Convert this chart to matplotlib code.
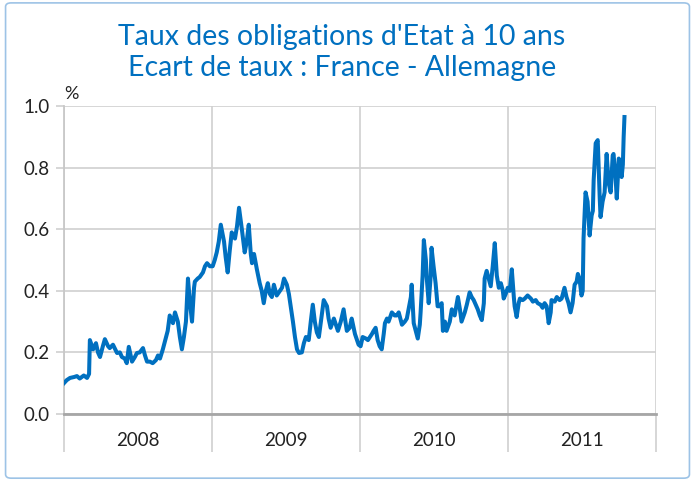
import numpy as np
import pandas as pd
import matplotlib
matplotlib.use("Agg")
from matplotlib import pyplot as plt
from matplotlib.patches import FancyBboxPatch

plt.rcParams['font.family'] = ['Lato', 'DejaVu Sans']

# jours depuis le 1er janvier 2008 et écart de taux (%)
jours = [0, 7, 15, 25, 32, 39, 49, 57, 62, 64, 72, 79, 84, 89, 96, 101, 109, 113, 121, 131,
         138, 143, 150, 155, 160, 168, 175, 180, 187, 195, 200, 205, 212, 219, 227, 232, 237, 244, 249, 256,
         261, 269, 274, 281, 286, 291, 296, 301, 306, 311, 316, 321, 323, 330, 335, 343, 348, 353, 360, 367,
         372, 377, 382, 387, 395, 399, 404, 409, 414, 422, 427, 432, 439, 446, 451, 456, 461, 464, 469, 476,
         483, 488, 493, 498, 503, 508, 513, 518, 525, 533, 538, 543, 550, 555, 560, 565, 570, 575, 580, 587,
         592, 597, 604, 609, 614, 619, 624, 629, 636, 641, 649, 653, 658, 666, 671, 676, 683, 690, 698, 705,
         710, 718, 723, 727, 732, 737, 745, 750, 755, 760, 764, 769, 774, 779, 784, 789, 792, 797, 801, 809,
         816, 821, 826, 834, 841, 846, 851, 856, 858, 863, 868, 873, 878, 880, 885, 888, 893, 895, 900, 905,
         907, 912, 917, 922, 927, 932, 935, 940, 944, 952, 957, 964, 972, 977, 981, 989, 994, 1001, 1006, 1011,
         1016, 1021, 1026, 1031, 1036, 1038, 1043, 1048, 1053, 1058, 1063, 1068, 1073, 1078, 1083, 1085, 1090, 1095, 1100, 1105,
         1110, 1112, 1117, 1122, 1125, 1132, 1137, 1144, 1152, 1157, 1164, 1169, 1176, 1181, 1186, 1191, 1196, 1201, 1203, 1211,
         1216, 1223, 1228, 1233, 1235, 1240, 1245, 1250, 1255, 1260, 1265, 1268, 1272, 1277, 1280, 1282, 1287, 1292, 1297, 1302,
         1305, 1307, 1312, 1317, 1322, 1324, 1329, 1334, 1339, 1344, 1349, 1354, 1356, 1361, 1364, 1369, 1374, 1376, 1379, 1381,
         1383]
ecart = [0.10, 0.11, 0.117, 0.12, 0.123, 0.115, 0.125, 0.117, 0.13, 0.24, 0.21, 0.23, 0.20, 0.185, 0.22, 0.243, 0.22, 0.214, 0.225, 0.198,
         0.20, 0.185, 0.18, 0.165, 0.218, 0.17, 0.185, 0.198, 0.20, 0.214, 0.19, 0.17, 0.17, 0.165, 0.175, 0.19, 0.18, 0.21, 0.235, 0.27,
         0.32, 0.295, 0.33, 0.30, 0.25, 0.21, 0.25, 0.30, 0.44, 0.36, 0.30, 0.41, 0.43, 0.44, 0.445, 0.46, 0.48, 0.49, 0.48, 0.48,
         0.50, 0.525, 0.56, 0.615, 0.56, 0.51, 0.46, 0.53, 0.59, 0.57, 0.61, 0.67, 0.60, 0.525, 0.56, 0.615, 0.52, 0.49, 0.52, 0.47,
         0.425, 0.40, 0.36, 0.40, 0.425, 0.39, 0.38, 0.42, 0.385, 0.40, 0.41, 0.44, 0.42, 0.39, 0.345, 0.30, 0.25, 0.21, 0.198, 0.20,
         0.23, 0.25, 0.24, 0.30, 0.355, 0.30, 0.265, 0.25, 0.32, 0.37, 0.35, 0.31, 0.28, 0.31, 0.29, 0.27, 0.30, 0.34, 0.27, 0.28,
         0.31, 0.26, 0.24, 0.225, 0.22, 0.25, 0.245, 0.24, 0.25, 0.26, 0.27, 0.28, 0.24, 0.22, 0.21, 0.26, 0.295, 0.31, 0.30, 0.33,
         0.32, 0.32, 0.33, 0.29, 0.30, 0.31, 0.345, 0.38, 0.42, 0.295, 0.27, 0.245, 0.29, 0.33, 0.45, 0.565, 0.50, 0.445, 0.36, 0.45,
         0.54, 0.48, 0.425, 0.35, 0.35, 0.36, 0.27, 0.30, 0.27, 0.30, 0.34, 0.32, 0.38, 0.34, 0.30, 0.33, 0.355, 0.395, 0.38, 0.37,
         0.355, 0.34, 0.32, 0.305, 0.36, 0.44, 0.465, 0.44, 0.415, 0.48, 0.555, 0.45, 0.41, 0.425, 0.40, 0.375, 0.39, 0.41, 0.40, 0.47,
         0.38, 0.35, 0.315, 0.36, 0.375, 0.37, 0.375, 0.385, 0.375, 0.365, 0.37, 0.36, 0.355, 0.345, 0.36, 0.35, 0.295, 0.33, 0.37, 0.365,
         0.38, 0.37, 0.375, 0.40, 0.41, 0.38, 0.36, 0.33, 0.36, 0.42, 0.43, 0.455, 0.44, 0.385, 0.40, 0.57, 0.72, 0.69, 0.58, 0.645,
         0.66, 0.76, 0.88, 0.89, 0.70, 0.64, 0.69, 0.72, 0.845, 0.75, 0.72, 0.84, 0.845, 0.77, 0.70, 0.83, 0.81, 0.77, 0.81, 0.90,
         0.965]
annees = ['2008', '2009', '2010', '2011']

bleu = '#0070C0'
dates = pd.Timestamp('2008-01-01') + pd.to_timedelta(jours, unit='D')
bornes = [pd.Timestamp(f'{a}-01-01') for a in range(2008, 2013)]
centres = [bornes[i] + (bornes[i + 1] - bornes[i]) / 2 for i in range(4)]

fig = plt.figure(figsize=(6.95, 4.83), dpi=100)
ax = fig.add_axes([0.092, 0.143, 0.852, 0.637])

ax.plot(dates, ecart, color=bleu, lw=2.9, solid_joinstyle='round', zorder=3)

ax.set_ylim(0, 1.0)
ax.set_yticks(np.arange(0, 1.01, 0.2))
ax.set_yticklabels([f'{v:.1f}' for v in np.arange(0, 1.01, 0.2)])
ax.set_xlim(bornes[0], bornes[-1])

# bornes des années : graduations longues + grille verticale
ax.set_xticks(bornes)
ax.set_xticklabels([])
ax.set_xticks(centres, minor=True)
ax.set_xticklabels(annees, minor=True)
ax.tick_params(axis='x', which='major', length=27, width=1.2, color='#D0D0D0', direction='out')
ax.tick_params(axis='x', which='minor', length=0, pad=13, labelsize=13.5, labelcolor='#222222')
ax.tick_params(axis='y', length=6, width=1.2, color='#D0D0D0', labelsize=13.5, labelcolor='#222222', pad=4)

ax.grid(True, which='major', color='#D0D0D0', lw=1.2)
ax.set_axisbelow(True)
for s in ['top', 'right']:
    ax.spines[s].set_visible(False)
ax.spines['left'].set_color('#C8C8C8')
ax.spines['left'].set_linewidth(1.3)
ax.spines['bottom'].set_color('#A6A6A6')
ax.spines['bottom'].set_linewidth(2)

ax.text(0.0, 1.015, '%', transform=ax.transAxes, ha='left', va='bottom', fontsize=13, color='#222222')

fig.text(0.492, 0.923, "Taux des obligations d'Etat à 10 ans", ha='center', va='center',
         fontsize=20.5, color=bleu)
fig.text(0.492, 0.859, "Ecart de taux : France - Allemagne", ha='center', va='center',
         fontsize=20.5, color=bleu)

cadre = FancyBboxPatch((0.008, 0.01), 0.984, 0.984, boxstyle='round,pad=0,rounding_size=0.008',
                       transform=fig.transFigure, fill=False, edgecolor='#9DC3E6', lw=1.2)
fig.patches.append(cadre)

fig.savefig('out.png', dpi=100)
